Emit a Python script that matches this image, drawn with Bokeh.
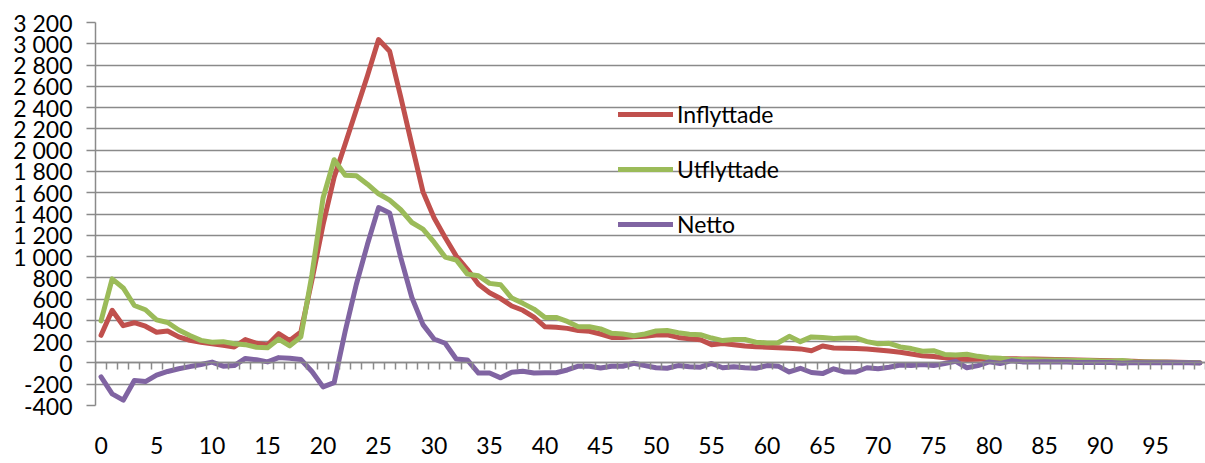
import numpy as np
from bokeh.plotting import figure
from bokeh.models import Range1d, FixedTicker, LinearAxis, Legend, LegendItem
from bokeh.embed import file_html
from bokeh.resources import INLINE

# ---------------- data ----------------
ages = list(range(100))

inflyttade = [260, 495, 350, 378, 345, 288, 300, 245, 212, 195,
              180, 165, 150, 220, 185, 168, 275, 210, 290, 780,
              1300, 1745, 2060, 2380, 2700, 3040, 2930, 2500, 2050, 1610,
              1365, 1180, 1005, 880, 740, 660, 605, 535, 495, 430,
              340, 335, 325, 305, 298, 272, 240, 240, 247, 250,
              262, 265, 240, 228, 218, 172, 182, 172, 160, 152,
              148, 142, 138, 132, 115, 160, 140, 138, 135, 130,
              122, 112, 100, 85, 68, 60, 48, 38, 32, 35,
              40, 40, 40, 38, 36, 35, 33, 30, 28, 25,
              22, 20, 18, 15, 12, 10, 8, 6, 5, 3]

utflyttade = [395, 790, 705, 540, 500, 405, 380, 310, 258, 212,
              195, 200, 180, 172, 148, 142, 225, 160, 245, 830,
              1550, 1910, 1765, 1760, 1680, 1590, 1530, 1440, 1320, 1258,
              1135, 995, 967, 835, 820, 748, 735, 610, 560, 506,
              428, 428, 390, 340, 340, 320, 278, 272, 256, 272,
              300, 305, 285, 270, 265, 234, 210, 220, 220, 195,
              188, 190, 250, 200, 245, 240, 230, 235, 235, 200,
              180, 185, 150, 135, 110, 115, 80, 75, 82, 62,
              48, 44, 33, 32, 30, 28, 28, 25, 24, 22,
              18, 16, 22, 12, 10, 8, 7, 5, 4, 3]

netto = [-130, -290, -350, -165, -175, -115, -80, -55, -35, -15,
         8, -30, -25, 42, 30, 10, 50, 45, 32, -80,
         -225, -185, 300, 740, 1115, 1460, 1410, 990, 615, 360,
         225, 185, 37, 28, -95, -95, -140, -87, -78, -95,
         -92, -92, -66, -31, -31, -47, -31, -31, -3, -25,
         -45, -50, -25, -35, -40, -5, -45, -35, -45, -50,
         -25, -30, -85, -50, -90, -100, -55, -85, -85, -45,
         -55, -40, -20, -25, -15, -25, -5, 15, -45, -25,
         10, -5, 20, 10, 10, 12, 10, 8, 5, 5,
         5, 4, -3, 3, 2, 2, 1, 1, 1, 0]

series_names = ["Inflyttade", "Utflyttade", "Netto"]
y_ticks = list(range(-400, 3201, 200))
x_label_ticks = list(range(0, 100, 5))

# ---------------- style ----------------
GRID = "#8a8a8a"
FONT = "Lato"
FS = "23px"
COLORS = ["#C0504D", "#9BBB59", "#8064A2"]

p = figure(width=1205, height=463, output_backend="svg", toolbar_location=None,
           x_range=Range1d(-0.5, 99.5), y_range=Range1d(-400, 3200),
           min_border_left=95, min_border_right=0, min_border_top=22, min_border_bottom=58)
p.outline_line_color = None
p.background_fill_color = "white"
p.border_fill_color = "white"

p.xgrid.visible = False
p.ygrid.ticker = FixedTicker(ticks=y_ticks)
p.ygrid.grid_line_color = GRID
p.ygrid.grid_line_width = 1.5

yax = p.yaxis[0]
yax.ticker = FixedTicker(ticks=y_ticks)
yax.major_label_overrides = {v: f"{v:,}".replace(",", " ") for v in y_ticks}
yax.bounds = (y_ticks[0], y_ticks[-1])
yax.axis_line_color = GRID
yax.axis_line_width = 1.5
yax.major_tick_line_color = GRID
yax.major_tick_line_width = 1.5
yax.major_tick_in = 0
yax.major_tick_out = 9
yax.minor_tick_line_color = None
yax.major_label_standoff = 14
yax.major_label_text_font = FONT
yax.major_label_text_font_size = FS
yax.major_label_text_color = "black"

# category labels at the bottom (standard axis, no line / ticks)
xax = p.xaxis[0]
xax.ticker = FixedTicker(ticks=x_label_ticks)
xax.axis_line_color = None
xax.major_tick_line_color = None
xax.minor_tick_line_color = None
xax.major_tick_in = 0
xax.major_tick_out = 0
xax.major_label_standoff = 31
xax.major_label_text_font = FONT
xax.major_label_text_font_size = FS
xax.major_label_text_color = "black"

# category boundary ticks on the zero line
boundaries = [a - 0.5 for a in ages] + [ages[-1] + 0.5]
tick_axis = LinearAxis(fixed_location=0, ticker=FixedTicker(ticks=boundaries),
                       axis_line_color=GRID, axis_line_width=1.5,
                       major_tick_line_color=GRID, major_tick_line_width=1.5,
                       major_tick_in=0, major_tick_out=7,
                       minor_tick_line_color=None,
                       major_label_text_color=None, major_label_standoff=0)
p.add_layout(tick_axis, "below")

renderers = []
for vals, col in zip([inflyttade, utflyttade, netto], COLORS):
    r = p.line(ages, vals, line_color=col, line_width=5,
               line_join="round", line_cap="round")
    renderers.append(r)

legend = Legend(items=[LegendItem(label=n, renderers=[r]) for n, r in zip(series_names, renderers)],
                location=(523, 167), orientation="vertical",
                glyph_width=55, glyph_height=26, label_height=26,
                label_standoff=4, spacing=27, padding=0, margin=0,
                border_line_color=None, background_fill_alpha=0,
                label_text_font=FONT, label_text_font_size=FS,
                label_text_color="black")
p.add_layout(legend)

open("out.html", "w").write(file_html(p, INLINE))
